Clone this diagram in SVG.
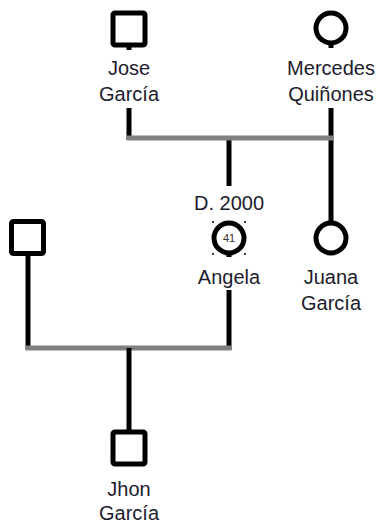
<svg xmlns="http://www.w3.org/2000/svg" width="378" height="525" viewBox="0 0 378 525">
<style>
.sym{fill:#fff;stroke:#000;stroke-width:5}
.ln{stroke:#000;stroke-width:5;fill:none}
.mar{stroke:#808080;stroke-width:5;fill:none}
.lbl{font-family:"Liberation Sans",Arial,sans-serif;font-size:20px;fill:#1c1c2c;text-anchor:middle}
.age{font-family:"Liberation Sans",Arial,sans-serif;font-size:11px;fill:#333;text-anchor:middle}
</style>
<rect width="378" height="525" fill="#fff"/>
<g id="connectors">
<line class="ln" x1="129" y1="108" x2="129" y2="140"/>
<line class="ln" x1="331" y1="108" x2="331" y2="222"/>
<line class="ln" x1="229" y1="138" x2="229" y2="186"/>
<line class="mar" x1="127" y1="138" x2="333" y2="138"/>
<line class="ln" x1="229" y1="290" x2="229" y2="350"/>
<line class="ln" x1="28" y1="254" x2="28" y2="350"/>
<line class="mar" x1="26" y1="348" x2="231" y2="348"/>
<line class="ln" x1="129" y1="348" x2="129" y2="432"/>
</g>
<g id="jose">
<rect class="sym" x="113" y="13" width="32" height="32" rx="2"/>
<line class="ln" x1="129" y1="45" x2="129" y2="50"/>
<text class="lbl" x="129" y="75">Jose</text>
<text class="lbl" x="129" y="101">García</text>
</g>
<g id="mercedes">
<circle class="sym" cx="331" cy="28" r="15"/>
<line class="ln" x1="331" y1="42" x2="331" y2="48"/>
<text class="lbl" x="331" y="75">Mercedes</text>
<text class="lbl" x="331" y="101">Quiñones</text>
</g>
<g id="angela">
<text class="lbl" x="229" y="210">D. 2000</text>
<circle class="sym" cx="229" cy="238" r="15"/>
<g fill="#000">
<circle cx="213" cy="222" r="1"/><circle cx="245" cy="222" r="1"/>
<circle cx="213" cy="254" r="1"/><circle cx="245" cy="254" r="1"/>
</g>
<line class="ln" x1="229" y1="252" x2="229" y2="257"/>
<text class="age" x="229" y="242">41</text>
<text class="lbl" x="229" y="284">Angela</text>
</g>
<g id="juana">
<circle class="sym" cx="331" cy="238" r="15"/>
<text class="lbl" x="331" y="284">Juana</text>
<text class="lbl" x="331" y="310">García</text>
</g>
<g id="father">
<rect class="sym" x="11.5" y="221.5" width="32" height="32" rx="2"/>
</g>
<g id="jhon">
<rect class="sym" x="113" y="432" width="32" height="32" rx="2"/>
<text class="lbl" x="129" y="496">Jhon</text>
<text class="lbl" x="129" y="520">García</text>
</g>
</svg>
